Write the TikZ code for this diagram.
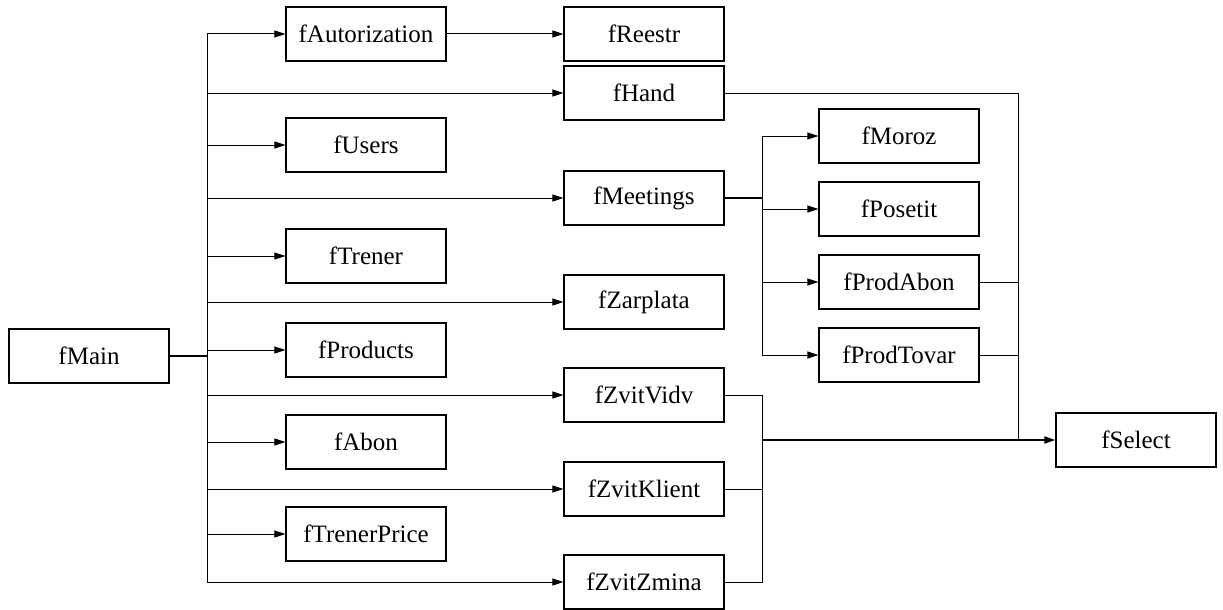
\documentclass[tikz,border=0pt]{standalone}
\usepackage{fontspec}
\setmainfont{Liberation Serif}
\usetikzlibrary{arrows.meta}

\begin{document}
\begin{tikzpicture}[x = 1pt, y = -1pt]
	\tikzstyle{formStyle}=[shape = rectangle, draw, line width = 1.2pt, minimum width = 160pt, minimum height = 54pt, inner sep = 0pt, font = \fontsize{25}{30}\selectfont]
	\tikzstyle{linkStyle}=[line width = 1pt]
	\tikzstyle{arrowStyle}=[line width = 1pt, -{Triangle[length = 11pt, width = 7pt]}]
	\tikzstyle{trunkStyle}=[line width = 2.2pt]
	\useasboundingbox (0,0) rectangle (1223,610);
	\node[formStyle] (fMain) at (89,356) {fMain};
	\node[formStyle] (fAutorization) at (366,34) {fAutorization};
	\node[formStyle] (fUsers) at (366,145) {fUsers};
	\node[formStyle] (fTrener) at (366,256) {fTrener};
	\node[formStyle] (fProducts) at (366,350) {fProducts};
	\node[formStyle] (fAbon) at (366,442) {fAbon};
	\node[formStyle] (fTrenerPrice) at (366,534) {fTrenerPrice};
	\node[formStyle] (fReestr) at (644,34) {fReestr};
	\node[formStyle] (fHand) at (644,93) {fHand};
	\node[formStyle] (fMeetings) at (644,198) {fMeetings};
	\node[formStyle] (fZarplata) at (644,302) {fZarplata};
	\node[formStyle] (fZvitVidv) at (644,395) {fZvitVidv};
	\node[formStyle] (fZvitKlient) at (644,489) {fZvitKlient};
	\node[formStyle] (fZvitZmina) at (644,582) {fZvitZmina};
	\node[formStyle] (fMoroz) at (899,136) {fMoroz};
	\node[formStyle] (fPosetit) at (899,209) {fPosetit};
	\node[formStyle] (fProdAbon) at (899,282) {fProdAbon};
	\node[formStyle] (fProdTovar) at (899,355) {fProdTovar};
	\node[formStyle] (fSelect) at (1136,440) {fSelect};
	\coordinate (mainBus) at (207,356);
	\coordinate (meetBus) at (762,198);
	\coordinate (zvitBus) at (762,440);
	\coordinate (selectBus) at (1018,440);
	\draw[trunkStyle] (fMain) -- (mainBus);
	\foreach \f in {fAutorization,fHand,fUsers,fMeetings,fTrener,fZarplata,fProducts,fZvitVidv,fAbon,fZvitKlient,fTrenerPrice,fZvitZmina}
		\draw[arrowStyle] (mainBus) |- (\f);
	\draw[arrowStyle] (fAutorization) -- (fReestr);
	\draw[trunkStyle] (fMeetings) -- (meetBus);
	\foreach \f in {fMoroz,fPosetit,fProdAbon,fProdTovar}
		\draw[arrowStyle] (meetBus) |- (\f);
	\foreach \f in {fZvitVidv,fZvitKlient,fZvitZmina}
		\draw[linkStyle] (\f) -| (zvitBus);
	\foreach \f in {fHand,fProdAbon,fProdTovar}
		\draw[linkStyle] (\f) -| (selectBus);
	\draw[arrowStyle, line width = 2pt] (zvitBus) -- (fSelect);
\end{tikzpicture}
\end{document}
